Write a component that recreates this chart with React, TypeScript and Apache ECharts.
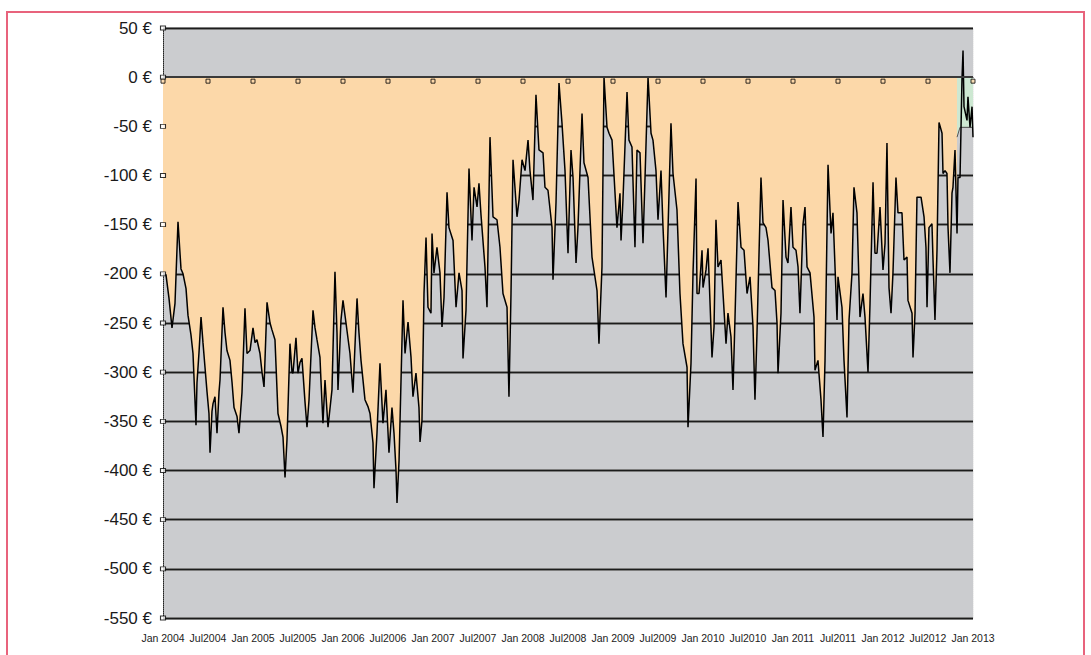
import React, { useEffect, useRef } from "react";
import * as echarts from "echarts";

// x = months since Jan 2004, y = drawdown in €
const drawdownPoints: [number, number][] = [
  [0, -200], [0.4, -201], [0.8, -225], [1.2, -255], [1.6, -230], [2.0, -147], [2.4, -195], [2.67, -200],
  [3.07, -215], [3.33, -242], [3.73, -262], [4.0, -281], [4.4, -354], [4.53, -311], [4.8, -280], [5.07, -244],
  [5.33, -270], [5.6, -295], [5.87, -320], [6.13, -342], [6.27, -382], [6.53, -340], [6.67, -332], [6.93, -325],
  [7.2, -362], [7.47, -320], [7.6, -308], [8.0, -234], [8.27, -260], [8.53, -278], [8.93, -288], [9.2, -310],
  [9.47, -336], [9.87, -345], [10.13, -362], [10.53, -321], [10.93, -235], [11.2, -281], [11.6, -278], [12.0, -255],
  [12.27, -270], [12.53, -267], [12.93, -281], [13.2, -300], [13.47, -315], [13.87, -229], [14.27, -250], [14.53, -257],
  [14.93, -267], [15.33, -342], [15.73, -355], [16.0, -366], [16.27, -407], [16.53, -369], [16.93, -271], [17.2, -300],
  [17.33, -301], [17.73, -265], [18.0, -301], [18.27, -290], [18.53, -286], [18.93, -330], [19.2, -356], [19.47, -328],
  [20.0, -237], [20.27, -255], [20.53, -267], [20.93, -285], [21.07, -310], [21.33, -352], [21.6, -308], [22.0, -356],
  [22.53, -318], [22.93, -198], [23.2, -260], [23.33, -318], [23.73, -247], [24.0, -227], [24.4, -250], [24.93, -281],
  [25.33, -321], [25.87, -225], [26.13, -260], [26.4, -288], [26.93, -328], [27.33, -335], [27.6, -342], [28.0, -372],
  [28.13, -418], [28.53, -362], [28.93, -291], [29.33, -352], [29.73, -318], [30.13, -382], [30.53, -336], [30.8, -362],
  [31.07, -400], [31.2, -433], [31.47, -390], [31.87, -267], [32.0, -227], [32.27, -281], [32.67, -249], [33.07, -285],
  [33.33, -325], [33.73, -301], [34.13, -336], [34.27, -371], [34.53, -349], [34.8, -220], [35.07, -163], [35.33, -234],
  [35.73, -240], [35.87, -159], [36.13, -199], [36.53, -173], [36.93, -199], [37.2, -254], [37.47, -224], [37.87, -117],
  [38.13, -153], [38.67, -166], [39.07, -234], [39.47, -199], [39.87, -217], [40.0, -286], [40.4, -237], [40.8, -93],
  [41.2, -166], [41.47, -112], [41.87, -132], [42.13, -108], [42.4, -140], [42.93, -193], [43.2, -234], [43.6, -61],
  [44.0, -142], [44.53, -145], [44.93, -173], [45.33, -220], [45.87, -234], [46.13, -325], [46.4, -220], [46.67, -84],
  [47.2, -142], [47.47, -125], [47.87, -84], [48.27, -95], [48.67, -64], [48.93, -95], [49.33, -125], [49.73, -18],
  [50.13, -74], [50.67, -77], [50.93, -112], [51.33, -115], [51.87, -153], [52.0, -206], [52.4, -128], [52.8, -6],
  [53.2, -47], [53.6, -95], [54.0, -179], [54.4, -74], [54.67, -102], [55.07, -189], [55.33, -153], [55.87, -37],
  [56.13, -87], [56.67, -102], [57.2, -183], [57.87, -217], [58.13, -271], [58.53, -193], [58.8, 0], [59.2, -51],
  [59.47, -57], [59.87, -64], [60.27, -118], [60.53, -153], [60.93, -118], [61.07, -166], [61.33, -125], [61.87, -15],
  [62.13, -64], [62.53, -71], [62.93, -173], [63.2, -74], [63.6, -77], [64.0, -169], [64.27, -102], [64.67, 0],
  [65.07, -57], [65.33, -64], [65.73, -95], [66.0, -145], [66.4, -95], [66.67, -153], [67.07, -224], [67.33, -156],
  [67.73, -47], [68.0, -98], [68.53, -135], [68.93, -220], [69.33, -271], [69.87, -295], [70.0, -356], [70.4, -291],
  [70.67, -199], [71.07, -103], [71.2, -220], [71.47, -220], [71.87, -176], [72.0, -214], [72.4, -196], [72.67, -174],
  [73.07, -257], [73.2, -285], [73.47, -254], [73.73, -145], [74.0, -193], [74.4, -186], [74.67, -220], [75.07, -271],
  [75.33, -240], [75.73, -264], [76.0, -318], [76.27, -244], [76.67, -127], [77.07, -173], [77.47, -176], [77.87, -220],
  [78.27, -203], [78.67, -254], [78.93, -328], [79.2, -260], [79.73, -102], [80.0, -148], [80.4, -153], [80.67, -166],
  [81.2, -214], [81.6, -217], [81.87, -250], [82.0, -301], [82.4, -240], [82.67, -125], [83.07, -183], [83.33, -189],
  [83.73, -132], [84.0, -173], [84.4, -176], [84.67, -193], [84.93, -240], [85.33, -150], [85.6, -132], [85.87, -193],
  [86.27, -199], [86.8, -244], [86.93, -298], [87.33, -288], [87.73, -328], [88.0, -366], [88.27, -288], [88.67, -89],
  [89.07, -159], [89.33, -138], [89.87, -247], [90.0, -203], [90.53, -234], [90.8, -288], [91.2, -346], [91.47, -247],
  [91.87, -199], [92.13, -112], [92.53, -138], [92.93, -244], [93.33, -220], [93.6, -244], [94.0, -300], [94.27, -230],
  [94.67, -107], [94.93, -179], [95.2, -179], [95.6, -132], [96.0, -196], [96.27, -169], [96.53, -67], [96.8, -214],
  [97.07, -240], [97.33, -199], [97.73, -102], [98.0, -138], [98.53, -138], [98.8, -186], [99.2, -183], [99.33, -227],
  [99.87, -240], [100.0, -285], [100.27, -240], [100.53, -122], [101.07, -122], [101.47, -142], [101.73, -173], [101.87, -234],
  [102.13, -153], [102.53, -149], [102.67, -186], [102.93, -247], [103.2, -176], [103.47, -46], [103.87, -57], [104.0, -98],
  [104.27, -95], [104.53, -98], [104.67, -153], [104.93, -199], [105.2, -118], [105.33, -112], [105.6, -74], [105.87, -159],
  [106.0, -102], [106.27, -102], [106.53, -3], [106.67, 27], [106.8, -30], [107.2, -44], [107.33, -20], [107.6, -51],
  [107.87, -30], [108.0, -61],
];

// Last stretch drawn in green instead of peach
const peachEndMonth = 105.87;
const greenBand: [number, number][] = [
  [105.87, -61], [106.27, -51], [108.0, -51],
];

const yTicks = [50, 0, -50, -100, -150, -200, -250, -300, -350, -400, -450, -500, -550];
const xTickLabels = [
  "Jan 2004", "Jul2004", "Jan 2005", "Jul2005", "Jan 2006", "Jul2006", "Jan 2007", "Jul2007",
  "Jan 2008", "Jul2008", "Jan 2009", "Jul2009", "Jan 2010", "Jul2010", "Jan 2011", "Jul2011",
  "Jan 2012", "Jul2012", "Jan 2013",
];
const monthsPerTick = 6;

export default function App() {
  const ref = useRef<HTMLDivElement>(null);
  useEffect(() => {
    if (!ref.current) return;
    const chart = echarts.init(ref.current, undefined, { renderer: "svg" });
    const yMax = yTicks[0];
    const yMin = yTicks[yTicks.length - 1];
    const xMax = (xTickLabels.length - 1) * monthsPerTick;
    const labelFont = "'Liberation Sans Narrow', 'Arial Narrow', 'Liberation Sans', Arial, sans-serif";
    const baseY = {
      type: "value" as const,
      min: yMin,
      max: yMax,
      interval: 50,
    };
    chart.setOption({
      animation: false,
      backgroundColor: "#ffffff",
      grid: {
        left: 163,
        right: 118,
        top: 28,
        bottom: 37,
        show: true,
        backgroundColor: "#cbcccf",
        borderWidth: 0,
      },
      xAxis: {
        type: "value",
        min: 0,
        max: xMax,
        interval: monthsPerTick,
        axisLine: { show: true, lineStyle: { color: "#111", width: 1 } },
        axisTick: { show: false },
        splitLine: { show: false },
        axisLabel: {
          margin: 14,
          fontSize: 10.5,
          color: "#222",
          fontFamily: "'Liberation Sans', Arial, sans-serif",
          formatter: (v: number) => xTickLabels[Math.round(v / monthsPerTick)] ?? "",
        },
      },
      yAxis: [
        {
          ...baseY,
          position: "left",
          axisLine: { show: true, lineStyle: { color: "#222", width: 1, type: "dotted" } },
          axisTick: { show: false },
          axisLabel: {
            margin: 11,
            fontSize: 17,
            color: "#1a1a1a",
            fontFamily: labelFont,
            formatter: (v: number) => `${v} €`,
          },
          splitLine: { show: true, lineStyle: { color: "#7d7d7d", width: 3 } },
        },
        {
          ...baseY,
          position: "right",
          axisLine: { show: true, lineStyle: { color: "#eeeeee", width: 1, type: "dotted" } },
          axisTick: { show: false },
          axisLabel: { show: false },
          splitLine: { show: true, lineStyle: { color: "#1c1c1c", width: 1 } },
        },
      ],
      series: [
        {
          name: "area",
          type: "line",
          data: drawdownPoints.filter((p) => p[0] <= peachEndMonth),
          showSymbol: false,
          symbol: "none",
          lineStyle: { width: 0 },
          areaStyle: { color: "#fcd8a9", opacity: 1, origin: "auto" },
          silent: true,
          z: 2,
          markLine: {
            silent: true,
            symbol: "none",
            label: { show: false },
            lineStyle: { color: "#3a3a3a", width: 2, type: "solid" },
            data: [{ yAxis: 0 }],
          },
        },
        {
          name: "green",
          type: "line",
          data: greenBand,
          showSymbol: false,
          symbol: "none",
          lineStyle: { width: 1, color: "#555" },
          areaStyle: { color: "#cde8d2", opacity: 1, origin: "auto" },
          silent: true,
          z: 3,
        },
        {
          name: "drawdown",
          type: "line",
          data: drawdownPoints,
          showSymbol: false,
          symbol: "none",
          lineStyle: { width: 1.5, color: "#000" },
          silent: true,
          z: 4,
        },
        {
          name: "yHandles",
          type: "scatter",
          data: yTicks.map((v) => [0, v]),
          symbol: "rect",
          symbolSize: [5, 4],
          itemStyle: { color: "#ffffff", borderColor: "#000", borderWidth: 1 },
          clip: false,
          silent: true,
          z: 6,
        },
        {
          name: "xHandles",
          type: "scatter",
          data: xTickLabels.map((_, i) => [i * monthsPerTick, 0]),
          symbol: "rect",
          symbolSize: [4, 4],
          symbolOffset: [0, 4],
          itemStyle: { color: "#fcd8a9", borderColor: "#000", borderWidth: 1 },
          clip: false,
          silent: true,
          z: 6,
        },
      ],
    });
    return () => chart.dispose();
  }, []);
  return (
    <div style={{ position: "fixed", left: 0, top: 0, width: 1091, height: 655, background: "#fff" }}>
      <div ref={ref} style={{ position: "absolute", left: 0, top: 0, width: 1091, height: 655 }} />
      <div
        style={{
          position: "absolute",
          left: 6,
          top: 11,
          width: 1075,
          height: 700,
          borderTop: "2px solid #e8637c",
          borderLeft: "2px solid #e8637c",
          borderRight: "2px solid #e8637c",
          pointerEvents: "none",
        }}
      />
    </div>
  );
}
